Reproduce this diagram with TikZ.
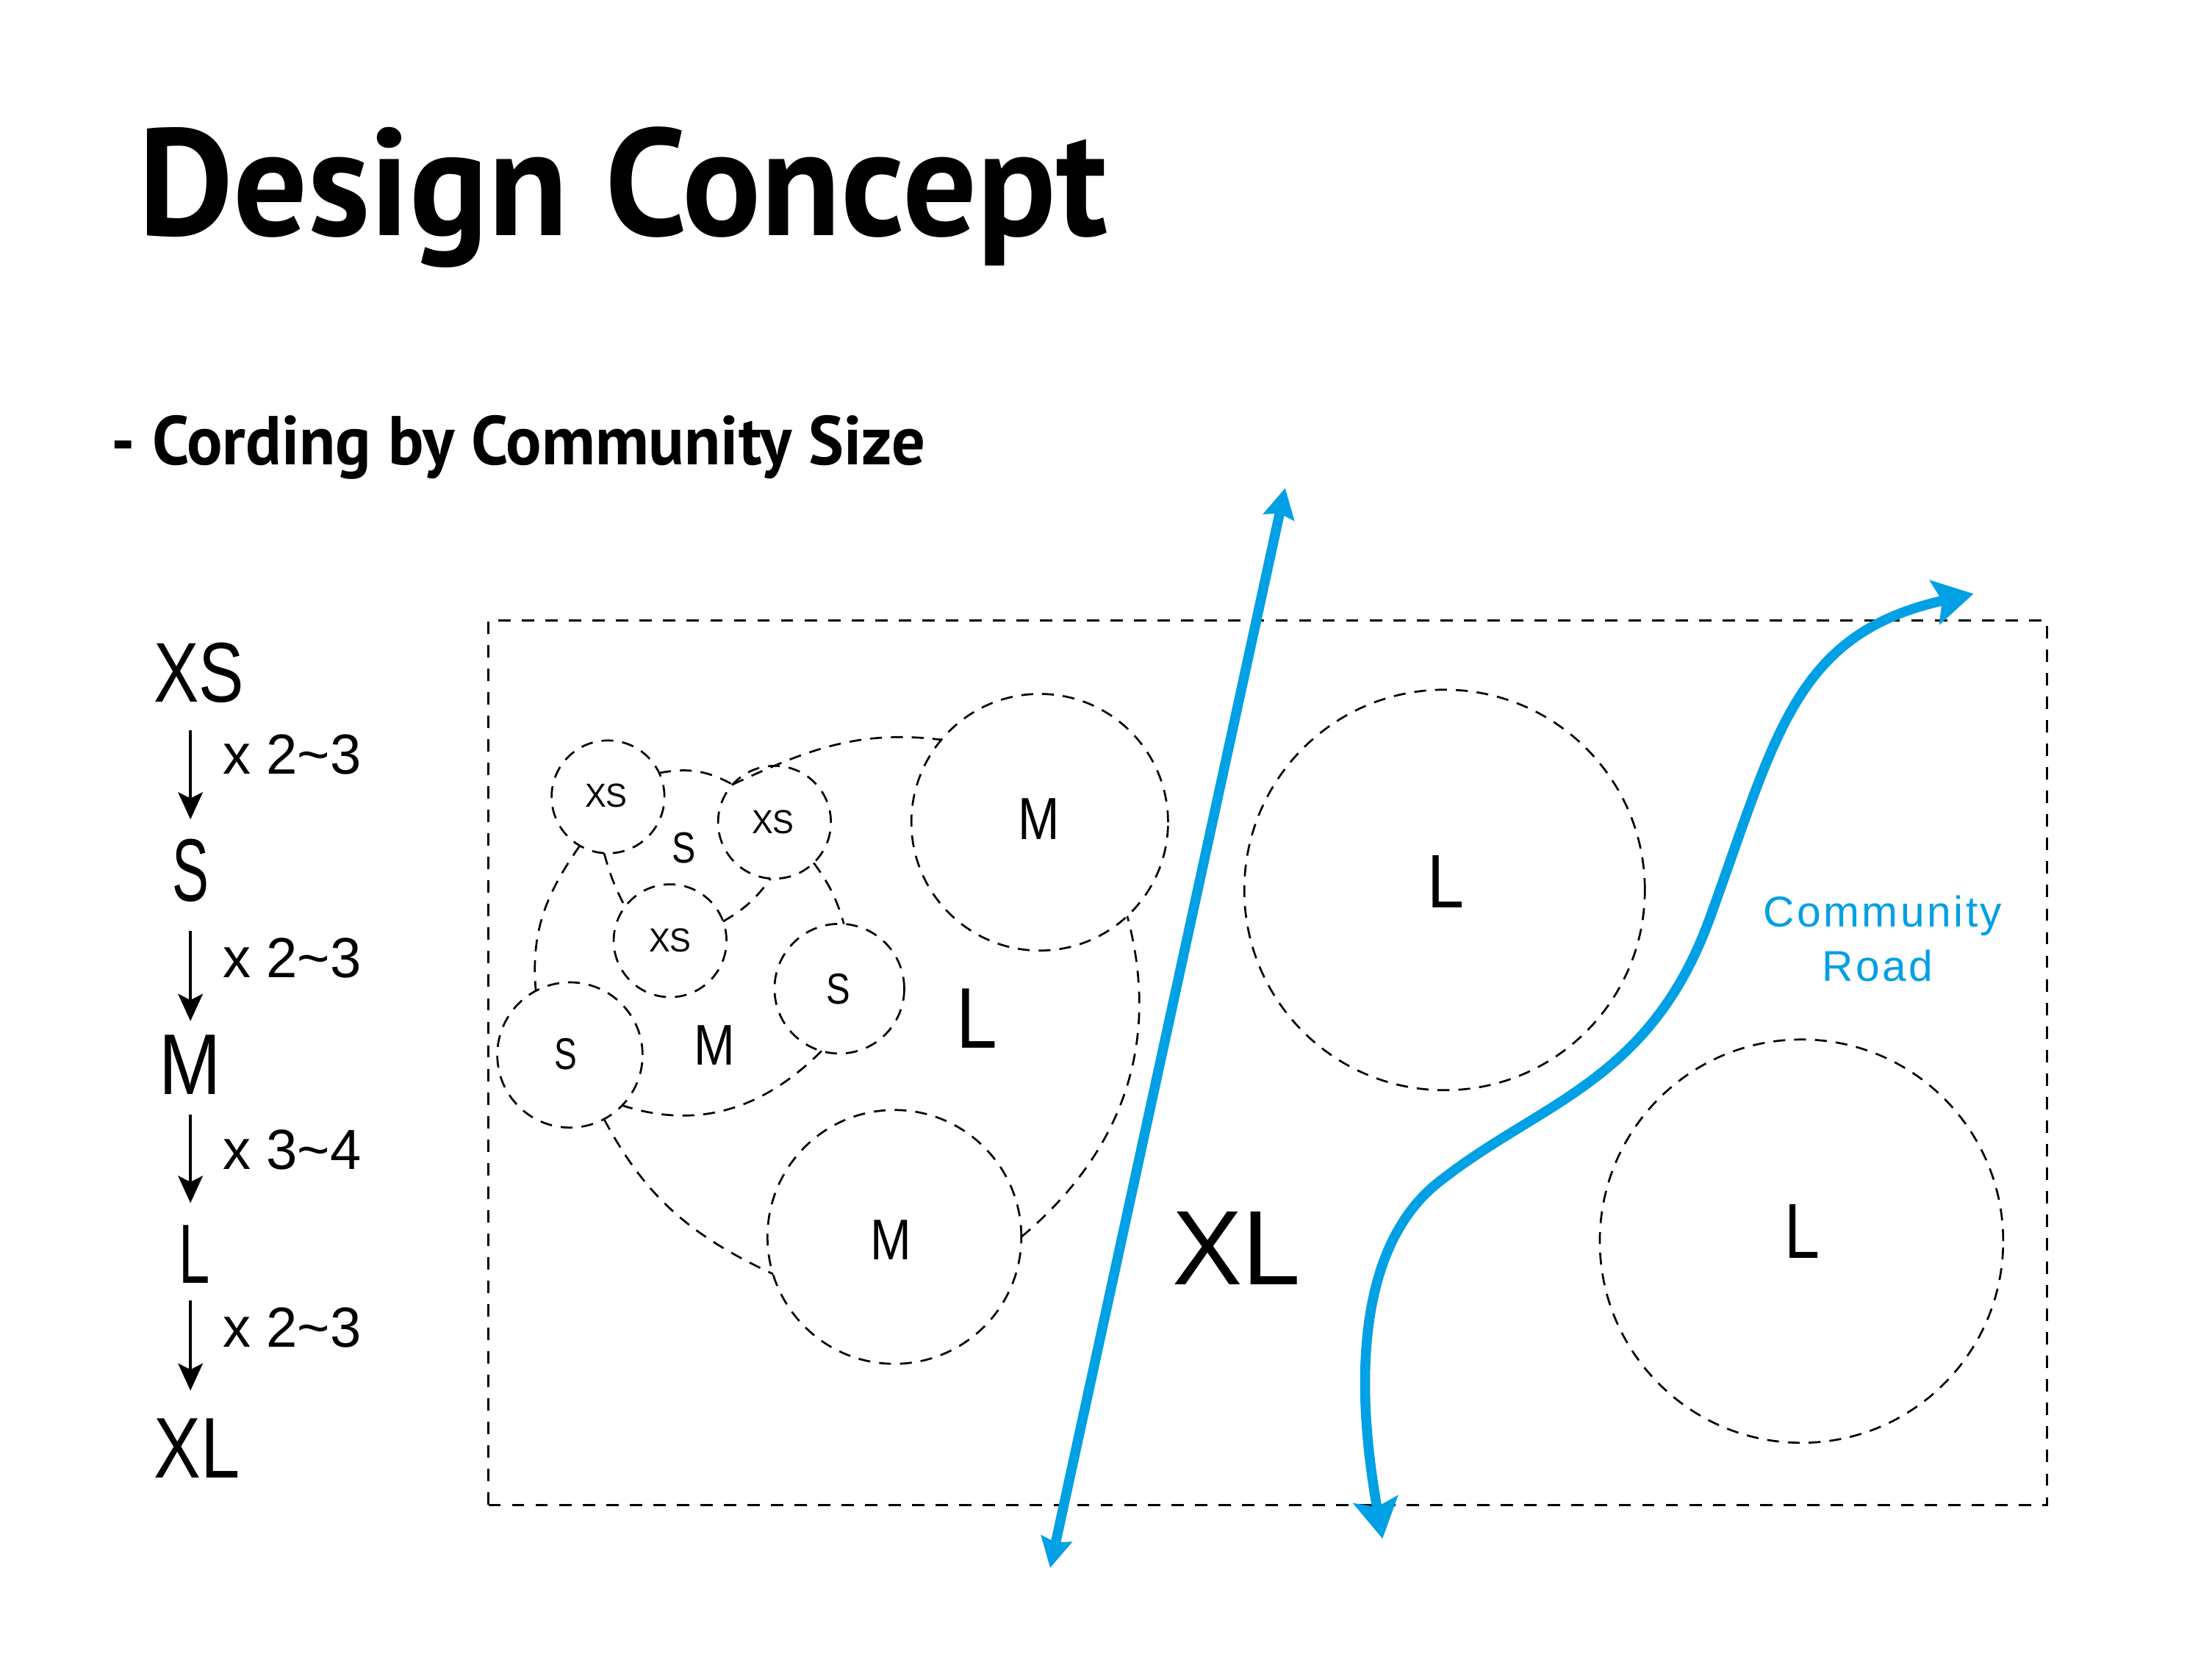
\documentclass[tikz,border=0pt]{standalone}
\usepackage{fontspec}
\setmainfont{Liberation Sans}
\newfontfamily\headfont{PT Sans}
\usetikzlibrary{arrows.meta}
\definecolor{roadblue}{RGB}{0,160,228}
% one drawing unit
\newlength\px
\setlength\px{0.02cm}
% text scaled to a given width and height (in drawing units)
\newcommand\fit[3]{\resizebox{#1\px}{#2\px}{#3}}

\begin{document}
\begin{tikzpicture}[x=0.02cm, y=0.02cm,
  lbl/.style={inner sep=0pt, outer sep=0pt, anchor=base west},
  zone/.style={circle, draw, dash pattern=on 4.8pt off 3.6pt, line width=0.8pt,
               inner sep=0pt, outer sep=0pt},
  outline/.style={draw, dash pattern=on 4.8pt off 3.6pt, line width=0.8pt},
  siteframe/.style={draw, dash pattern=on 5pt off 4.5pt, line width=0.8pt},
  sizearrow/.style={-{Stealth[length=11pt, width=10pt, inset=2.5pt]}, line width=1pt},
  roadline/.style={draw=roadblue, line width=4pt},
  smalltips/.style={{Stealth[length=12pt, width=12.5pt, inset=1.5pt]}-{Stealth[length=12pt, width=12.5pt, inset=1.5pt]}},
  bigtips/.style={{Stealth[length=16pt, width=18pt, inset=3pt]}-{Stealth[length=16pt, width=18pt, inset=3pt]}},
  roadtext/.style={anchor=base, inner sep=0pt, text=roadblue,
                   font=\fontsize{17.4}{20}\selectfont\addfontfeature{LetterSpace=6}}
]
\useasboundingbox (0,0) rectangle (1568,1176);
\fill[white] (0,0) rectangle (1568,1176);

% headings
\node[lbl] (title) at (98,1009) {\fit{687}{77}{\headfont\bfseries Design Concept}};
\node[lbl] (subtitle) at (79,846.4) {\fit{577}{35}{\headfont\bfseries - Cording by Community Size}};

% size scale on the left
\node[lbl] (kxs) at (109,678) {\fit{64}{42}{XS}};
\node[lbl] (ks)  at (122,537) {\fit{26}{44}{S}};
\node[lbl] (km)  at (113,400) {\fit{44}{42}{M}};
\node[lbl] (kl)  at (126.6,266) {\fit{22}{41}{L}};
\node[lbl] (kxl) at (109,128) {\fit{61}{42}{XL}};

\node[lbl] (f1) at (158,627) {\fit{98}{28}{x 2\textasciitilde 3}};
\node[lbl] (f2) at (158,483) {\fit{98}{28}{x 2\textasciitilde 3}};
\node[lbl] (f3) at (158,347) {\fit{98}{28}{x 3\textasciitilde 4}};
\node[lbl] (f4) at (158,221) {\fit{98}{28}{x 2\textasciitilde 3}};

\coordinate (a1) at (135,658); \coordinate (b1) at (135,595);
\coordinate (a2) at (135,516); \coordinate (b2) at (135,452);
\coordinate (a3) at (135,386); \coordinate (b3) at (135,323);
\coordinate (a4) at (135,254); \coordinate (b4) at (135,190);
\draw[sizearrow] (a1) -- (b1);
\draw[sizearrow] (a2) -- (b2);
\draw[sizearrow] (a3) -- (b3);
\draw[sizearrow] (a4) -- (b4);

% site boundary
\draw[siteframe] (346,109) rectangle (1451,736);

% community circles
\node[zone, minimum size=1.6cm]  (xs1) at (431,611) {};
\node[zone, minimum size=1.6cm]  (xs2) at (549,593) {};
\node[zone, minimum size=1.6cm]  (xs3) at (475,509) {};
\node[zone, minimum size=2.06cm] (s1)  at (404,428) {};
\node[zone, minimum size=1.84cm] (s2)  at (595,475) {};
\node[zone, minimum size=3.64cm] (mt)  at (737,593) {};
\node[zone, minimum size=3.6cm]  (mb)  at (634,299) {};
\node[zone, minimum size=5.68cm] (lt)  at (1024,545) {};
\node[zone, minimum size=5.72cm] (lb)  at (1277,296) {};

% circle labels
\node[lbl] (xs1t) at (414.7,603.5) {\fit{30}{16.5}{XS}};
\node[lbl] (xs2t) at (533,585) {\fit{30}{16.5}{XS}};
\node[lbl] (xs3t) at (460,501.2) {\fit{30}{16.5}{XS}};
\node[lbl] (s1t)  at (393,418) {\fit{16}{22}{S}};
\node[lbl] (s2t)  at (586,464) {\fit{17}{21.5}{S}};
\node[lbl] (mtt)  at (721.6,581) {\fit{29.4}{29}{M}};
\node[lbl] (mbt)  at (617,283) {\fit{29}{28}{M}};
\node[lbl] (ltt)  at (1012,532.4) {\fit{26}{37}{L}};
\node[lbl] (lbt)  at (1265,284) {\fit{25}{38}{L}};

% group labels
\node[lbl] (gs) at (476.4,564.4) {\fit{16.8}{21.6}{S}};
\node[lbl] (gm) at (492,421) {\fit{29}{28}{M}};
\node[lbl] (gl) at (678,433) {\fit{29}{42}{L}};
\node[lbl] (gxl) at (831,265.4) {\fit{91}{51.6}{XL}};

% S group outline
\draw[outline] (xs1.25) to[bend left=20] (xs2.138);
\draw[outline] (xs1.266) to[bend right=6] (xs3.143);
\draw[outline] (xs3.20) to[bend right=12] (xs2.266);

% M group outline
\draw[outline] (xs1.240) to[out=235, in=95] (s1.118);
\draw[outline] (xs2.-46) to[bend left=10] (s2.86);
\draw[outline] (s2.254) to[out=225, in=-18] (s1.-44);

% L group outline
\draw[outline] (s1.-62) to[out=-62, in=155] (mb.197);
\draw[outline] (mb.0) to[out=40, in=-75] (mt.-47);
\draw[outline] (xs2.138) to[out=25, in=173] (mt.140);

% community roads
\coordinate (p1) at (744.4,64.3);
\coordinate (p2) at (911,830);
\draw[roadline, smalltips] (p1) -- (p2);

\coordinate (c0) at (980,85);
\coordinate (c1) at (1020,338);
\coordinate (c2) at (1212,525);
\coordinate (c3) at (1399,755);
\draw[roadline, bigtips] (c0) .. controls (955.6,222.9) and (972.7,301) .. (c1)
  .. controls (1092,395) and (1169.6,408.4) .. (c2)
  .. controls (1259.2,654.7) and (1271.7,726.8) .. (c3);

\node[roadtext] (rd1) at (1334.5,519) {Community};
\node[roadtext] (rd2) at (1331,480.5) {Road};
\end{tikzpicture}
\end{document}
